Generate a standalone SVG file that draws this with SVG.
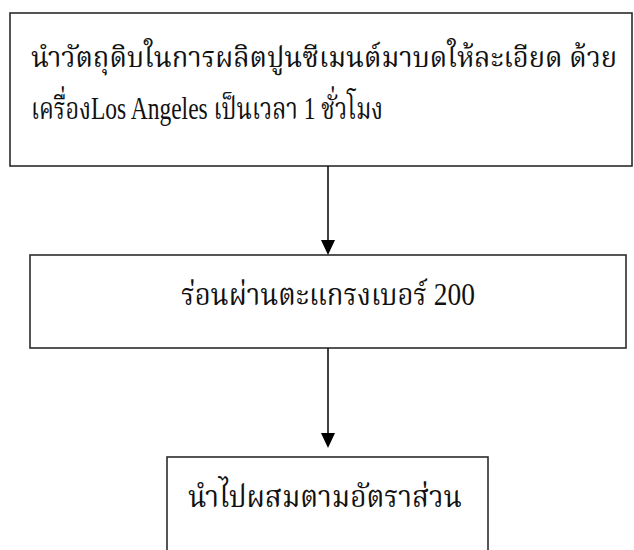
<svg xmlns="http://www.w3.org/2000/svg" width="634" height="550" viewBox="0 0 634 550">
<defs>
<style>
.box{fill:#fff;stroke:#2b2b2b;stroke-width:1.6}
.t{font-family:"Liberation Serif","Noto Serif Thai","Noto Sans Thai","DejaVu Serif",serif;font-size:31px;fill:#111}
.s{font-size:28px}
.c{stroke:#111;stroke-width:1.6;fill:none}
</style>
</defs>
<rect width="634" height="550" fill="#fff"/>
<g id="node1">
<rect class="box" x="10" y="13" width="622" height="153"/>
<text class="t s" x="31" y="67" textLength="586" lengthAdjust="spacingAndGlyphs">นำวัตถุดิบในการผลิตปูนซีเมนต์มาบดให้ละเอียด ด้วย</text>
<text class="t" x="31" y="119" textLength="352" lengthAdjust="spacingAndGlyphs">เครื่องLos Angeles  เป็นเวลา  1  ชั่วโมง</text>
</g>
<g id="node2">
<rect class="box" x="30" y="255" width="596" height="93"/>
<text class="t" x="181" y="305" textLength="294" lengthAdjust="spacingAndGlyphs">ร่อนผ่านตะแกรงเบอร์ 200</text>
</g>
<g id="node3">
<rect class="box" x="167" y="457" width="321" height="110"/>
<text class="t" x="188" y="507" textLength="274" lengthAdjust="spacingAndGlyphs">นำไปผสมตามอัตราส่วน</text>
</g>
<g id="connectors">
<line class="c" x1="328" y1="166" x2="328" y2="241"/>
<path d="M321,240 L335,240 L328,255 Z" fill="#000"/>
<line class="c" x1="328" y1="348" x2="328" y2="435"/>
<path d="M321,433 L335,433 L328,448 Z" fill="#000"/>
</g>
</svg>
